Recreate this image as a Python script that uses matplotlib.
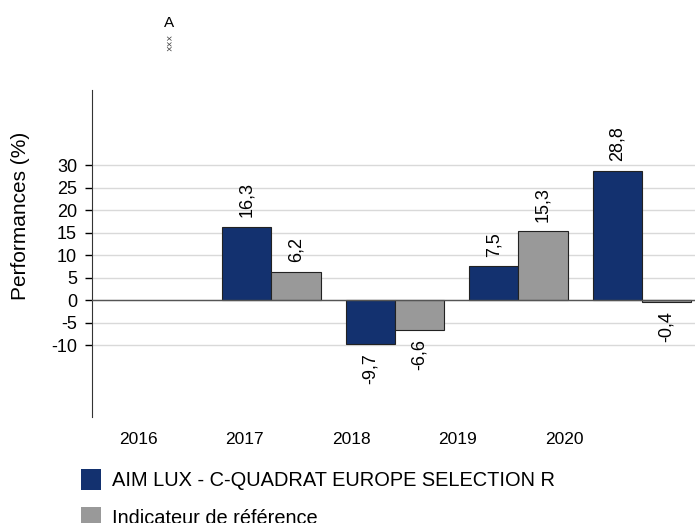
import matplotlib
matplotlib.use('Agg')
import matplotlib.pyplot as plt
from matplotlib.patches import Patch
import numpy as np

plt.rcParams['font.family'] = ['Liberation Sans', 'DejaVu Sans']
plt.rcParams['axes.unicode_minus'] = False

years = ['2016', '2017', '2018', '2019', '2020']
fonds = [np.nan, 16.3, -9.7, 7.5, 28.8]
indice = [np.nan, 6.2, -6.6, 15.3, -0.4]
nom_fonds = 'AIM LUX - C-QUADRAT EUROPE SELECTION R'
nom_indice = 'Indicateur de référence'

bleu = '#13316f'
gris = '#999999'

fig = plt.figure(figsize=(6.95, 5.23), dpi=100)
ax = fig.add_axes([0.1328, 0.2027, 0.8672, 0.6252])

x = np.arange(len(years))
w = 0.4
ax.bar(x - w / 2, fonds, w, color=bleu, edgecolor='#222222', linewidth=0.8, zorder=3)
ax.bar(x + w / 2, indice, w, color=gris, edgecolor='#222222', linewidth=0.8, zorder=3)

# etiquettes des valeurs
for serie, dx in ((fonds, -w / 2), (indice, w / 2)):
    for xi, v in zip(x, serie):
        if np.isnan(v):
            continue
        txt = ('%.1f' % v).replace('.', ',')
        if v >= 0:
            ax.annotate(txt, (xi + dx, v), xytext=(0, 7), textcoords='offset points',
                        rotation=90, ha='center', va='bottom', fontsize=13)
        else:
            ax.annotate(txt, (xi + dx, v), xytext=(0, -7), textcoords='offset points',
                        rotation=90, ha='center', va='top', fontsize=13)

ax.set_xlim(-0.451, 4.43)
ax.set_ylim(-26, 46.7)
ax.set_yticks(np.arange(-10, 31, 5))
ax.yaxis.grid(True, color='#d9d9d9', linewidth=1, zorder=0)
ax.axhline(0, color='#555555', linewidth=1, zorder=4)

# libelles des annees (decales comme dans l'original)
ax.set_xticks(-0.081 + 0.863 * x)
ax.set_xticklabels(years, fontsize=12.5)
ax.tick_params(axis='x', length=0, pad=11)
ax.tick_params(axis='y', length=5, width=1, colors='black', labelsize=13, pad=6)

for s in ('top', 'right', 'bottom'):
    ax.spines[s].set_visible(False)
ax.spines['left'].set_color('#333333')
ax.set_ylabel('Performances (%)', fontsize=15)
ax.yaxis.set_label_coords(-0.103, 0.615)

fig.text(169 / 695, 1 - 23 / 523, 'A', ha='center', va='center', fontsize=11)
fig.text(170 / 695, 1 - 42 / 523, '×××', ha='center', va='center', fontsize=7,
         rotation=90, color='#444444')

handles = [Patch(facecolor=bleu, edgecolor='none'), Patch(facecolor=gris, edgecolor='none')]
fig.legend(handles, [nom_fonds, nom_indice], loc='upper left',
           bbox_to_anchor=(81 / 695, 1 - 469 / 523), frameon=False, fontsize=14.4,
           handlelength=1.0, handleheight=1.2, handletextpad=0.55,
           labelspacing=0.85, borderpad=0, borderaxespad=0)

fig.savefig('out.png', dpi=100)
